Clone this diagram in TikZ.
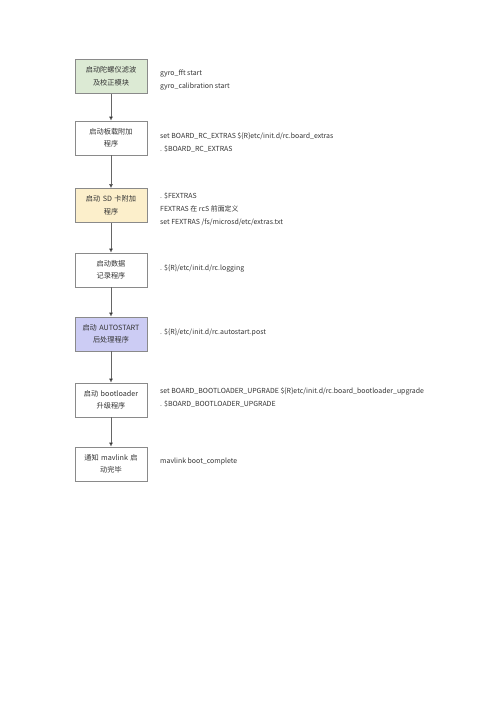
\documentclass[tikz,border=0pt]{standalone}
\usepackage{fontspec}
\setmainfont{Noto Sans CJK SC}
\usetikzlibrary{arrows.meta}
\definecolor{gyrofill}{HTML}{DCEAD4}
\definecolor{sdfill}{HTML}{FCEFCB}
\definecolor{autofill}{HTML}{CCCCF4}
\definecolor{boxline}{HTML}{8A8A8A}
\definecolor{flowline}{HTML}{666666}
\tikzset{
  stepbox/.style={draw=boxline,line width=0.8pt,minimum width=72pt,minimum height=34pt,
    text width=66pt,align=center,inner sep=0pt,text=black!80,font=\fontsize{7.2}{12.5}\selectfont},
  cmdtext/.style={anchor=west,align=left,inner sep=0pt,text=black!80,
    font=\fontsize{6.95}{13}\selectfont},
  flow/.style={draw=flowline,line width=0.6pt,-{Latex[length=4pt,width=4pt,fill=black]}}
}
\begin{document}
\begin{tikzpicture}[x=1pt,y=1pt]
\useasboundingbox[fill=white] (0,0) rectangle (500,-707);
% 流程框
\node[stepbox,fill=gyrofill] (gyro) at (111,-76.5) {启动陀螺仪滤波\\及校正模块};
\node[stepbox] (board) at (111,-138) {启动板载附加\\程序};
\node[stepbox,fill=sdfill] (sdcard) at (111,-205.5) {启动 SD 卡附加\\程序};
\node[stepbox] (logging) at (111,-270) {启动数据\\记录程序};
\node[stepbox,fill=autofill] (autostart) at (111,-334) {启动 AUTOSTART\\后处理程序};
\node[stepbox] (bootloader) at (111,-400) {启动 bootloader\\升级程序};
\node[stepbox] (mavlink) at (111,-464) {通知 mavlink 启\\动完毕};
% 箭头
\draw[flow] (gyro) -- (board);
\draw[flow] (board) -- (sdcard);
\draw[flow] (sdcard) -- (logging);
\draw[flow] (logging) -- (autostart);
\draw[flow] (autostart) -- (bootloader);
\draw[flow] (bootloader) -- (mavlink);
% 右侧命令
\node[cmdtext] (gyroTxt) at (160,-80.5) {gyro\_fft start\\gyro\_calibration start};
\node[cmdtext] (boardTxt) at (160,-142.5) {set BOARD\_RC\_EXTRAS \$\{R\}etc/init.d/rc.board\_extras\\. \$BOARD\_RC\_EXTRAS};
\node[cmdtext] (sdcardTxt) at (160,-209) {. \$FEXTRAS\\FEXTRAS 在 rcS 前面定义\\set FEXTRAS /fs/microsd/etc/extras.txt};
\node[cmdtext] (loggingTxt) at (160,-268) {. \$\{R\}/etc/init.d/rc.logging};
\node[cmdtext] (autostartTxt) at (160,-332) {. \$\{R\}/etc/init.d/rc.autostart.post};
\node[cmdtext] (bootloaderTxt) at (160,-398) {set BOARD\_BOOTLOADER\_UPGRADE \$\{R\}etc/init.d/rc.board\_bootloader\_upgrade\\. \$BOARD\_BOOTLOADER\_UPGRADE};
\node[cmdtext] (mavlinkTxt) at (160,-462) {mavlink boot\_complete};
\end{tikzpicture}
\end{document}
